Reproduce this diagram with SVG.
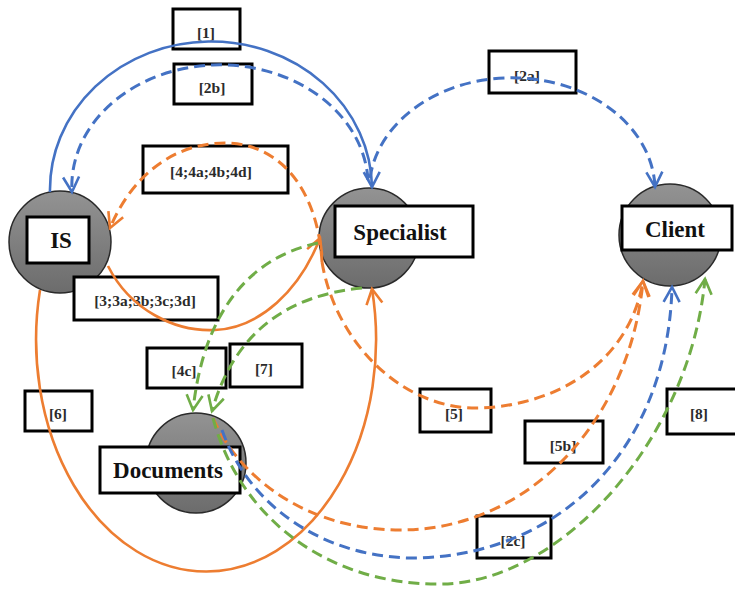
<svg xmlns="http://www.w3.org/2000/svg" width="735" height="589" viewBox="0 0 735 589">
  <style>
    .bg { fill: #ffffff; }
    .disc { fill: url(#discFill); stroke: #2a2a2a; stroke-width: 1.5; }
    .nodebox { fill: #ffffff; stroke: #000000; stroke-width: 3; }
    .nodetext { font-family: "Liberation Serif", "Times New Roman", serif; font-weight: bold; font-size: 23px; fill: #111111; text-anchor: middle; dominant-baseline: central; }
    .tagbox { fill: #ffffff; stroke: #000000; stroke-width: 3; }
    .tag { font-family: "Liberation Serif", "Times New Roman", serif; font-weight: bold; font-size: 15.5px; fill: #2b2b2b; text-anchor: middle; dominant-baseline: central; }
    .link { fill: none; stroke-width: 2.6; }
    .dash { stroke-dasharray: 11 6; stroke-width: 3; }
    .blue { stroke: #4472c4; }
    .orange { stroke: #ed7d31; }
    .green { stroke: #70ad47; }
  </style>
  <defs>
    <linearGradient id="discFill" x1="0" y1="0" x2="0" y2="1">
      <stop offset="0" stop-color="#939393"/>
      <stop offset="1" stop-color="#6c6c6c"/>
    </linearGradient>
    <marker id="arrowBlue" markerUnits="userSpaceOnUse" orient="auto" markerWidth="30" markerHeight="30" refX="0" refY="0" viewBox="-16 -15 30 30" overflow="visible">
      <path d="M -15 -8 L 0 0 L -15 8" fill="none" stroke="#4472c4" stroke-width="2.6" stroke-dasharray="none"/>
    </marker>
    <marker id="arrowOrange" markerUnits="userSpaceOnUse" orient="auto" markerWidth="30" markerHeight="30" refX="0" refY="0" viewBox="-16 -15 30 30" overflow="visible">
      <path d="M -15 -8 L 0 0 L -15 8" fill="none" stroke="#ed7d31" stroke-width="2.6" stroke-dasharray="none"/>
    </marker>
    <marker id="arrowGreen" markerUnits="userSpaceOnUse" orient="auto" markerWidth="30" markerHeight="30" refX="0" refY="0" viewBox="-16 -15 30 30" overflow="visible">
      <path d="M -15 -8 L 0 0 L -15 8" fill="none" stroke="#70ad47" stroke-width="2.6" stroke-dasharray="none"/>
    </marker>
  </defs>

  <rect class="bg" x="0" y="0" width="735" height="589"/>

  <!-- actors -->
  <g id="node-is">
    <circle class="disc" cx="60" cy="242" r="51"/>
    <rect class="nodebox" x="27" y="217" width="62" height="46"/>
    <text class="nodetext" x="61" y="240" font-size="27">IS</text>
  </g>
  <g id="node-specialist">
    <circle class="disc" cx="369" cy="238" r="50"/>
    <rect class="nodebox" x="335" y="206" width="138" height="51"/>
    <text class="nodetext" x="400" y="232">Specialist</text>
  </g>
  <g id="node-client">
    <circle class="disc" cx="670" cy="235" r="51"/>
    <rect class="nodebox" x="622" y="206" width="110" height="44"/>
    <text class="nodetext" x="675" y="229">Client</text>
  </g>
  <g id="node-documents">
    <circle class="disc" cx="196" cy="463" r="50"/>
    <rect class="nodebox" x="100" y="447" width="140" height="46"/>
    <text class="nodetext" x="168" y="470">Documents</text>
  </g>

  <!-- step labels -->
  <g id="labels">
    <rect class="tagbox" x="173" y="9" width="67" height="40"/>
    <text class="tag" x="206" y="32">[1]</text>
    <rect class="tagbox" x="174" y="64" width="78" height="40"/>
    <text class="tag" x="212" y="87">[2b]</text>
    <rect class="tagbox" x="489" y="51" width="87" height="42"/>
    <text class="tag" x="527" y="75">[2a]</text>
    <rect class="tagbox" x="143" y="146" width="145" height="47"/>
    <text class="tag" x="211" y="171" font-size="17">[4;4a;4b;4d]</text>
    <rect class="tagbox" x="74" y="277" width="144" height="43"/>
    <text class="tag" x="145" y="300" font-size="14.5">[3;3a;3b;3c;3d]</text>
    <rect class="tagbox" x="147" y="348" width="79" height="40"/>
    <text class="tag" x="184" y="370">[4c]</text>
    <rect class="tagbox" x="230" y="344" width="72" height="43"/>
    <text class="tag" x="264" y="368">[7]</text>
    <rect class="tagbox" x="25" y="391" width="67" height="40"/>
    <text class="tag" x="58" y="413">[6]</text>
    <rect class="tagbox" x="420" y="389" width="71" height="43"/>
    <text class="tag" x="454" y="413">[5]</text>
    <rect class="tagbox" x="525" y="421" width="78" height="42"/>
    <text class="tag" x="563" y="445">[5b]</text>
    <rect class="tagbox" x="667" y="389" width="73" height="45"/>
    <text class="tag" x="699" y="413">[8]</text>
    <rect class="tagbox" x="477" y="516" width="74" height="42"/>
    <text class="tag" x="513" y="540">[2c]</text>
  </g>

  <!-- flows between actors -->
  <g id="connectors">
    <!-- [1] IS to Specialist -->
    <path class="link blue" d="M 50 192 A 161 148 0 0 1 372 187" marker-end="url(#arrowBlue)"/>
    <!-- [2b] Specialist to IS -->
    <path class="link dash blue" d="M 368 180 A 148 121 0 0 0 72 192" marker-end="url(#arrowBlue)"/>
    <!-- [2a] Specialist to Client -->
    <path class="link dash blue" d="M 370 178 A 143 113 0 0 1 655 187" marker-end="url(#arrowBlue)"/>
    <!-- [4;4a;4b;4d] Specialist to IS -->
    <path class="link dash orange" d="M 322 262 C 318 190, 280 143, 225 143 C 170 143, 130 180, 110 228" marker-end="url(#arrowOrange)"/>
    <!-- [5] Specialist to Client -->
    <path class="link dash orange" d="M 322 262 C 335 340, 400 410, 480 408 C 560 405, 630 360, 643 281" marker-end="url(#arrowOrange)"/>
    <!-- [3;3a;3b;3c;3d] IS to Specialist -->
    <path class="link orange" d="M 108 266 C 130 310, 175 332, 215 330 C 260 328, 300 290, 320 238" marker-end="url(#arrowOrange)"/>
    <!-- [6] IS to Specialist, round below -->
    <path class="link orange" d="M 40 290 A 170 232 0 1 0 372 289" marker-end="url(#arrowOrange)"/>
    <!-- [4c] Specialist to Documents -->
    <path class="link dash green" d="M 318 243 C 260 255, 205 300, 193 410" marker-end="url(#arrowGreen)"/>
    <!-- [7] Specialist to Documents -->
    <path class="link dash green" d="M 362 288 C 290 295, 235 330, 212 411" marker-end="url(#arrowGreen)"/>
    <!-- [5b] Documents to Client -->
    <path class="link dash orange" d="M 213 418 C 240 480, 310 530, 400 530 C 530 530, 630 420, 643 281" marker-end="url(#arrowOrange)"/>
    <!-- [2c] Documents to Client -->
    <path class="link dash blue" d="M 222 430 C 250 510, 330 560, 420 558 C 570 552, 668 440, 672 287" marker-end="url(#arrowBlue)"/>
    <!-- [8] Documents to Client -->
    <path class="link dash green" d="M 213 418 C 240 520, 330 585, 440 584 C 560 584, 690 440, 705 279" marker-end="url(#arrowGreen)"/>
  </g>
</svg>
